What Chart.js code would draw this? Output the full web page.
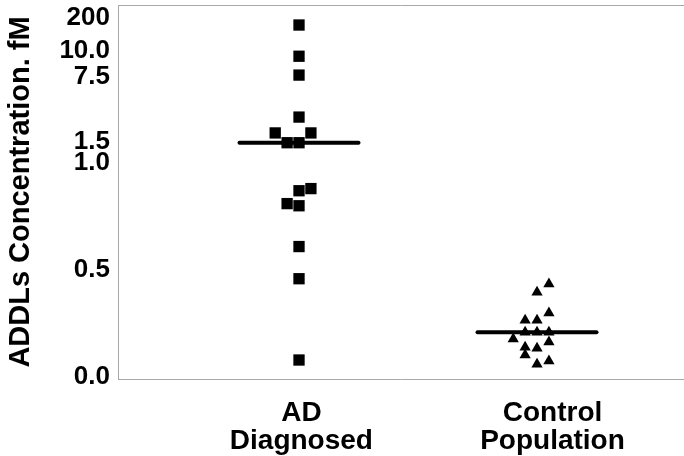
<!DOCTYPE html>
<html lang="en">
  <head>
    <meta charset="UTF-8" />
    <title>ADDLs concentration</title>
  </head>
  <style>
    * {
      margin: 0;
      padding: 0;
    }
    body {
      background: white;
    }
  </style>
  <body>
    <canvas id="myChart" width="684" height="456"></canvas>

    <script src="https://cdn.jsdelivr.net/npm/chart.js"></script>

    <script>
      // data block
      const categories = [["AD", "Diagnosed"], ["Control", "Population"]];
      const yTicks = [0, 0.5, 1.0, 1.5, 7.5, 10, 200];
      const yTickLabels = ["0.0", "0.5", "1.0", "1.5", "7.5", "10.0", "200"];

      const adValues = [160, 9.5, 7.7, 3.8, 2.33, 2.33, 1.48, 1.48, 0.88, 0.87, 0.81, 0.8, 0.61, 0.46, 0.08];
      const adSlots = [0, 0, 0, 0, -2, 1, -1, 0, 1, 0, -1, 0, 0, 0, 0];

      const controlValues = [0.435, 0.397, 0.3, 0.266, 0.266, 0.21, 0.21, 0.21, 0.178, 0.164, 0.14, 0.135, 0.103, 0.075, 0.06];
      const controlSlots = [1, 0, 1, -1, 0, -1, 0, 1, -2, 1, -1, 0, -1, 1, 0];

      const medians = [1.48, 0.21];

      // the y axis of the original is hand-broken: each tick gets its own spot
      const tickFractions = [0.005, 0.291, 0.578, 0.634, 0.807, 0.877, 0.965];
      // category labels sit a little right of the point columns
      const labelAnchors = [1.01, 2.065];

      class BrokenScale extends Chart.LinearScale {
        static id = "broken";
        static defaults = Chart.LinearScale.defaults;

        buildTicks() {
          return yTicks.map((v) => ({ value: v }));
        }

        getPixelForValue(value) {
          for (let i = 0; i < yTicks.length - 1; i++) {
            if (value <= yTicks[i + 1]) {
              const t = (value - yTicks[i]) / (yTicks[i + 1] - yTicks[i]);
              const f = tickFractions[i] + t * (tickFractions[i + 1] - tickFractions[i]);
              return this.getPixelForDecimal(f);
            }
          }
          return this.getPixelForDecimal(tickFractions[tickFractions.length - 1]);
        }

        getValueForPixel(pixel) {
          const f = this.getDecimalForPixel(pixel);
          for (let i = 0; i < tickFractions.length - 1; i++) {
            if (f <= tickFractions[i + 1]) {
              const t = (f - tickFractions[i]) / (tickFractions[i + 1] - tickFractions[i]);
              return yTicks[i] + t * (yTicks[i + 1] - yTicks[i]);
            }
          }
          return yTicks[yTicks.length - 1];
        }
      }
      Chart.register(BrokenScale);

      const slotWidth = 0.05;
      const halfLine = 0.25;

      const adPoints = adValues.map((v, i) => ({ x: 1 + adSlots[i] * slotWidth, y: v }));
      const controlPoints = controlValues.map((v, i) => ({ x: 2 + controlSlots[i] * slotWidth, y: v }));

      const medianSets = medians.map((m, i) => ({
        type: "line",
        data: [
          { x: i + 1 - halfLine, y: m },
          { x: i + 1 + halfLine, y: m }
        ],
        borderColor: "#000",
        borderWidth: 4,
        pointRadius: 0,
        borderCapStyle: "round",
        order: 0
      }));

      const data = {
        datasets: [
          {
            label: "AD Diagnosed",
            data: adPoints,
            pointStyle: "rect",
            pointRadius: 8,
            backgroundColor: "#000",
            borderWidth: 0,
            order: 1
          },
          {
            label: "Control Population",
            data: controlPoints,
            pointStyle: "triangle",
            pointRadius: 6.5,
            backgroundColor: "#000",
            borderWidth: 0,
            order: 1
          },
          ...medianSets
        ]
      };

      const dotted = {
        display: true,
        color: "#a8a8a8",
        width: 1,
        dash: [1, 1]
      };

      const noPad = (scale) => {
        scale.paddingTop = 0;
        scale.paddingBottom = 0;
        scale.paddingLeft = 0;
        scale.paddingRight = 0;
      };

      // config block
      const config = {
        type: "scatter",
        data,
        options: {
          responsive: false,
          animation: false,
          layout: { padding: 0, autoPadding: false },
          plugins: {
            legend: { display: false },
            tooltip: { enabled: false }
          },
          scales: {
            x: {
              type: "linear",
              position: "bottom",
              min: 0.2395,
              max: 2.6175,
              grid: { display: false, drawTicks: false },
              border: dotted,
              afterBuildTicks: (scale) => {
                scale.ticks = labelAnchors.map((a) => ({ value: a }));
              },
              afterFit: (scale) => {
                scale.height = 77;
                noPad(scale);
              },
              ticks: {
                autoSkip: false,
                maxRotation: 0,
                padding: 20,
                color: "#000",
                font: { family: "Liberation Sans", size: 28, weight: "bold", lineHeight: 1.0 },
                callback: (value, index) => categories[index]
              }
            },
            x2: {
              type: "linear",
              position: "top",
              min: 0,
              max: 1,
              grid: { display: false, drawTicks: false },
              border: dotted,
              ticks: { display: false },
              afterFit: (scale) => {
                scale.height = 5;
                noPad(scale);
              }
            },
            y: {
              type: "broken",
              min: 0,
              max: 200,
              grid: { display: false, drawTicks: false },
              border: dotted,
              afterFit: (scale) => {
                scale.width = 118;
                noPad(scale);
              },
              ticks: {
                padding: 8,
                color: "#000",
                font: { family: "Liberation Sans", size: 26, weight: "bold" },
                callback: (value, index) => yTickLabels[index]
              },
              title: {
                display: true,
                text: "ADDLs Concentration. fM",
                color: "#000",
                padding: { top: 4, bottom: 0 },
                font: { family: "Liberation Sans", size: 29, weight: "bold" }
              }
            }
          }
        }
      };

      // init render block
      const ctx = document.getElementById("myChart");
      const myChart = new Chart(ctx, config);
    </script>
  </body>
</html>
